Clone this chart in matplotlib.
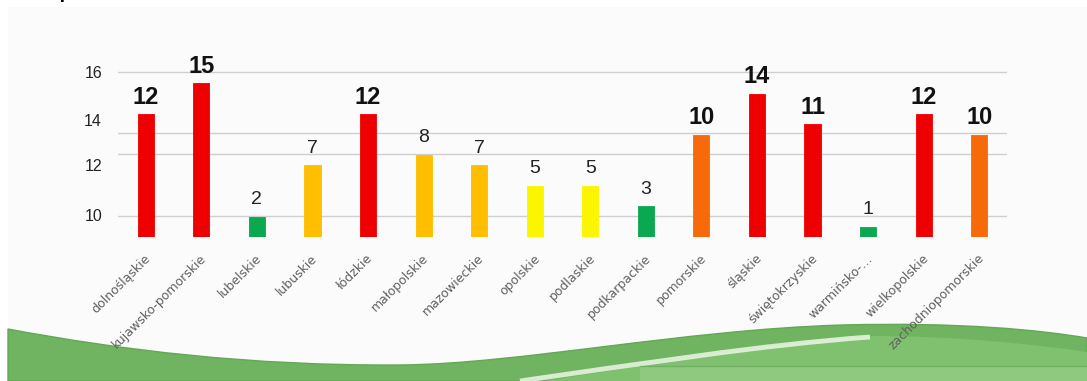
import matplotlib
matplotlib.use("Agg")
import matplotlib.pyplot as plt
from matplotlib.path import Path
from matplotlib.patches import PathPatch, Rectangle
import matplotlib.transforms as mtransforms

regions = ["dolnośląskie", "kujawsko-pomorskie", "lubelskie", "lubuskie", "łódzkie",
           "małopolskie", "mazowieckie", "opolskie", "podlaskie", "podkarpackie",
           "pomorskie", "śląskie", "świętokrzyskie", "warmińsko-…", "wielkopolskie",
           "zachodniopomorskie"]
counts = [12, 15, 2, 7, 12, 8, 7, 5, 5, 3, 10, 14, 11, 1, 12, 10]
levels = ["red", "red", "green", "amber", "red", "amber", "amber", "yellow", "yellow",
          "green", "orange", "red", "red", "green", "red", "orange"]
palette = {"red": "#ee0000", "orange": "#f66a0a", "amber": "#ffbe00",
           "yellow": "#fbf500", "green": "#0aa84f"}

# value axis ticks as printed on the slide, and the grid lines behind the bars
ytick_pos = [16.1, 11.4, 7.0, 2.15]
ytick_txt = ["16", "14", "12", "10"]
grid_pos = [16.1, 10.15, 8.1, 2.05]

W, H = 1087, 381
fig = plt.figure(figsize=(W / 100, H / 100), dpi=100, facecolor="white")

# decorative background layer in pixel units
bg = fig.add_axes([0, 0, 1, 1], zorder=0)
bg.set_xlim(0, W)
bg.set_ylim(H, 0)
bg.axis("off")
bg.add_patch(Rectangle((8, 7), W - 8, H - 7, color="#fbfbfb", lw=0))

C4, L, M, CL = Path.CURVE4, Path.LINETO, Path.MOVETO, Path.CLOSEPOLY
wave = Path([(8, 329), (120, 350), (250, 366), (400, 365),
             (520, 364), (680, 330), (842, 325),
             (960, 322), (1040, 330), (1087, 338),
             (1087, 381), (8, 381), (8, 329)],
            [M, C4, C4, C4, C4, C4, C4, C4, C4, C4, L, L, CL])
bg.add_patch(PathPatch(wave, fc="#70b461", ec="#63a855", lw=1))

light = Path([(545, 381), (680, 360), (780, 342), (870, 336),
              (960, 336), (1040, 345), (1087, 352),
              (1087, 381), (545, 381)],
             [M, C4, C4, C4, C4, C4, C4, L, CL])
bg.add_patch(PathPatch(light, fc="#80c170", ec="none"))
bg.add_patch(Rectangle((640, 366), W - 640, 15, color="#a2d393", lw=0, alpha=0.45))
bg.plot([640, W], [365.5, 365.5], color="#5d9f4f", lw=1, alpha=0.6)

streak = Path([(520, 381), (640, 364), (760, 345), (870, 337)], [M, C4, C4, C4])
bg.add_patch(PathPatch(streak, fc="none", ec="#f4fbef", lw=3.5, alpha=0.8))

# clipped heading text at the top edge
fig.text(58 / W, 1 + 5 / H, "p", fontsize=22, color="black", va="baseline",
         family="Liberation Sans")

ax = fig.add_axes([118 / W, (H - 237) / H, (1007 - 118) / W, (237 - 50) / H], zorder=1)
ax.patch.set_alpha(0)
x = list(range(len(regions)))
colors = [palette[c] for c in levels]
ax.bar(x, counts, width=0.29, color=colors, edgecolor=colors, lw=0.6, zorder=2)

for g in grid_pos:
    ax.axhline(g, color="#cfcfcf", lw=1, zorder=1)

for xi, v in zip(x, counts):
    if v >= 10:
        ax.annotate(str(v), (xi, v), xytext=(0, 7.5), textcoords="offset points",
                    ha="center", va="baseline", fontsize=17, fontweight="bold",
                    family="Liberation Sans", color="#111111")
    else:
        ax.annotate(str(v), (xi, v), xytext=(0, 9), textcoords="offset points",
                    ha="center", va="baseline", fontsize=14,
                    family="Liberation Sans", color="#222222")

ax.set_xlim(-0.5, 15.5)
ax.set_ylim(0, 187 / 10.25)
for s in ax.spines.values():
    s.set_visible(False)

ax.set_yticks(ytick_pos)
ax.set_yticklabels(ytick_txt, fontsize=11.5, family="Liberation Sans", color="#222222")
ax.tick_params(axis="y", length=0, pad=11.5)

ax.set_xticks(x)
ax.set_xticklabels(regions, rotation=45, ha="right", va="center", rotation_mode="anchor",
                   fontsize=9, color="#606060", family="DejaVu Sans")
ax.tick_params(axis="x", length=0, pad=14)
shift = mtransforms.ScaledTranslation(3 / 100, 0, fig.dpi_scale_trans)
for lab in ax.get_xticklabels():
    lab.set_transform(lab.get_transform() + shift)

fig.savefig("out.png", dpi=100, facecolor="white")
